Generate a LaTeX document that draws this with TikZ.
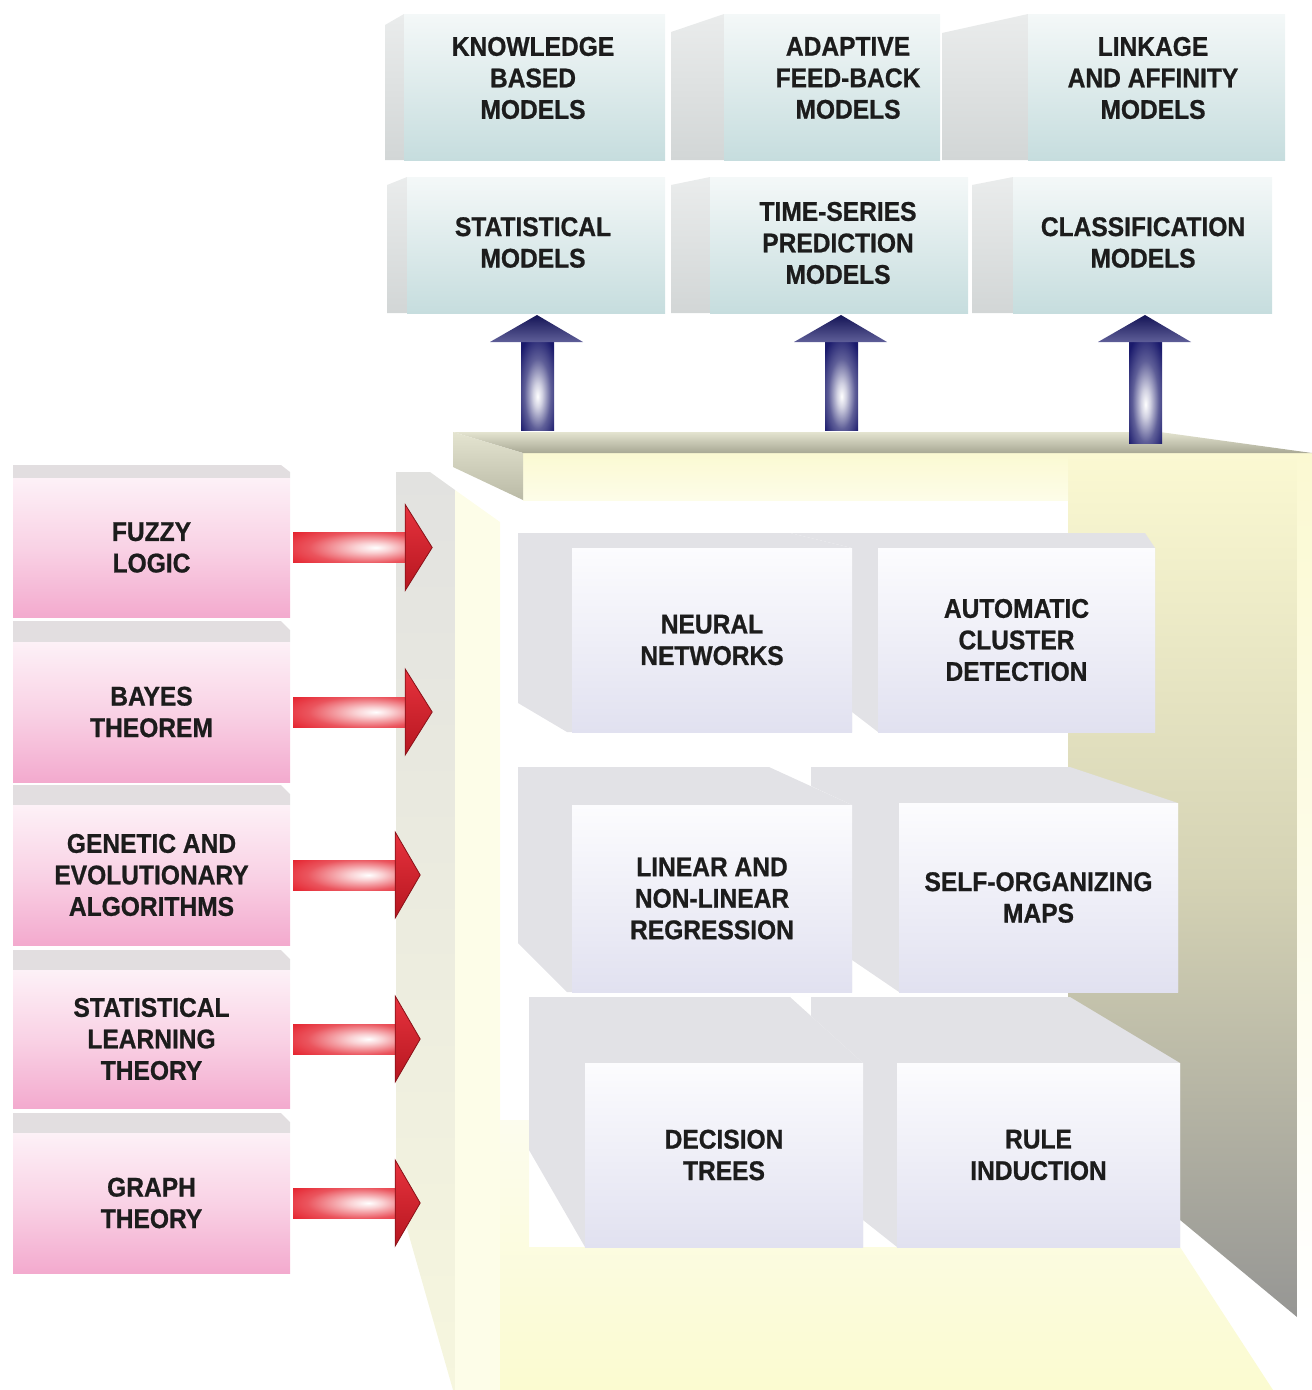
\documentclass[tikz,border=0pt]{standalone}
\usepackage{fontspec}
\setmainfont{Liberation Sans}[FakeStretch=0.91, BoldFeatures={FakeBold=0.8}]
\usetikzlibrary{calc}
\definecolor{navyA}{RGB}{26,26,108}
\definecolor{redA}{RGB}{228,28,40}
\definecolor{tealT}{RGB}{244,248,248}
\definecolor{tealB}{RGB}{198,221,222}
\definecolor{tsideT}{RGB}{234,236,236}
\definecolor{tsideB}{RGB}{210,214,214}
\definecolor{frameg}{RGB}{226,226,230}
\definecolor{faceT}{RGB}{252,252,254}
\definecolor{faceB}{RGB}{225,225,240}
\definecolor{pinkT}{RGB}{253,241,247}
\definecolor{pinkM}{RGB}{249,210,229}
\definecolor{pinkB}{RGB}{243,170,206}
\definecolor{pstripC}{RGB}{226,222,224}
\definecolor{yelA}{RGB}{251,249,210}
\definecolor{wallM}{RGB}{212,210,180}
\definecolor{wallG}{RGB}{150,150,148}
\definecolor{lwT}{RGB}{226,226,224}
\definecolor{lwB}{RGB}{246,246,222}
\definecolor{lwtwo}{RGB}{253,253,232}
\definecolor{floorT}{RGB}{252,252,238}
\definecolor{floorB}{RGB}{251,251,208}
\definecolor{bevT}{RGB}{228,228,208}
\definecolor{bevB}{RGB}{168,168,148}
\definecolor{bevC}{RGB}{186,186,166}
\definecolor{txt}{RGB}{28,28,28}
\pgfdeclareradialshading{redglow}{\pgfpoint{12bp}{0bp}}{color(0bp)=(white); color(8bp)=(redA!20!white); color(26bp)=(redA!75!white); color(42bp)=(redA); color(75bp)=(redA!80!black)}
\pgfdeclareradialshading{blueglow}{\pgfpoint{0bp}{-6bp}}{color(0bp)=(white); color(7bp)=(navyA!20!white); color(20bp)=(navyA!70!white); color(34bp)=(navyA); color(75bp)=(navyA!85!black)}
\newcommand{\myRArrow}[3]{%
  \path (#1.east) ++(3,0) coordinate (ra#1);
  \shade[shading=redglow] ($(ra#1)+(0,-15)$) rectangle ($(ra#1)+(#2,15)$);
  \path[top color=redA!90!white, bottom color=redA!80!black, draw=redA!60!black, line width=0.8pt]
    ($(ra#1)+(#2,-43)$) -- ($(ra#1)+(#3,0)$) -- ($(ra#1)+(#2,43)$) -- cycle;}
\newcommand{\myBArrow}[2]{%
  \coordinate (bb#1) at (#1,#2);
  \shade[shading=blueglow] ($(bb#1)+(-16,0)$) rectangle (#1+17,342);
  \path[top color=navyA!80!black, bottom color=navyA!70!white]
    (#1-47,342) -- (#1,315) -- (#1+46,342) -- cycle;}
\begin{document}
\begin{tikzpicture}[x=1pt,y=-1pt,
  lbl/.style={font=\bfseries\fontsize{27}{31.5}\selectfont, text=txt, align=center, inner sep=0pt},
  tface/.style={top color=tealT, bottom color=tealB},
  tside/.style={top color=tsideT, bottom color=tsideB},
  mframe/.style={fill=frameg},
  mface/.style={lbl, top color=faceT, bottom color=faceB},
  pface/.style={lbl, minimum width=277pt, top color=pinkT, bottom color=pinkB, middle color=pinkM},
  pstrip/.style={fill=pstripC}]
\useasboundingbox (0,0) rectangle (1312,1390);

% ---------- open box structure ----------
\path[top color=yelA, bottom color=wallG, middle color=wallM]
  (1068,453) -- (1297,453) -- (1297,1317) -- (1068,1127) -- cycle;
\path[top color=yelA, bottom color=white] (1297,453) rectangle (1312,1317);
\path[top color=yelA, bottom color=lwtwo] (523,453) rectangle (1068,500);
\path[top color=lwT, bottom color=lwB]
  (396,472) -- (430,472) -- (455,490) -- (455,1390) -- (453,1390) -- (396,1190) -- cycle;
\fill[lwtwo] (455,490) -- (500,522) -- (500,1390) -- (455,1390) -- cycle;
\path[top color=floorT, bottom color=floorB]
  (500,1120) -- (529,1120) -- (529,1247) -- (1180,1247) -- (1273,1390) -- (500,1390) -- cycle;
\path[top color=bevT, bottom color=bevB]
  (453,432) -- (1160,432) -- (1312,453) -- (523,453) -- cycle;
\path[top color=bevT, bottom color=bevC]
  (453,432) -- (523,453) -- (523,500) -- (453,467) -- cycle;

% ---------- inner 3D boxes ----------
\fill[mframe] (518,533) -- (790,533) -- (852,548) -- (852,732) -- (567,732) -- (518,703) -- cycle;
\fill[mframe] (790,533) -- (1145,533) -- (1155,548) -- (1155,732) -- (878,732) -- (852,712) -- (852,548) -- cycle;
\fill[mframe] (518,767) -- (769,767) -- (852,805) -- (852,992) -- (567,992) -- (518,943) -- cycle;
\fill[mframe] (811,767) -- (1070,767) -- (1178,803) -- (1178,992) -- (899,992) -- (852,960) -- (852,805) -- (811,786) -- cycle;
\fill[mframe] (529,997) -- (790,997) -- (863,1063) -- (863,1247) -- (585,1247) -- (529,1150) -- cycle;
\fill[mframe] (811,997) -- (1070,997) -- (1180,1063) -- (1180,1247) -- (897,1247) -- (863,1220) -- (863,1063) -- (811,1016) -- cycle;

\node[mface, minimum width=280pt, minimum height=184pt] (neural) at (712,640) {NEURAL\\NETWORKS};
\node[mface, minimum width=277pt, minimum height=184pt] (acd) at (1016.5,640) {AUTOMATIC\\CLUSTER\\DETECTION};
\node[mface, minimum width=280pt, minimum height=187pt] (lin) at (712,898.5) {LINEAR AND\\NON-LINEAR\\REGRESSION};
\node[mface, minimum width=279pt, minimum height=189pt] (som) at (1038.5,897.5) {SELF-ORGANIZING\\MAPS};
\node[mface, minimum width=278pt, minimum height=184pt] (dt) at (724,1155) {DECISION\\TREES};
\node[mface, minimum width=283pt, minimum height=184pt] (ri) at (1038.5,1155) {RULE\\INDUCTION};

% ---------- blue arrows ----------
\myBArrow{537}{430}
\myBArrow{841}{430}
\myBArrow{1145}{443}

% ---------- pink boxes ----------
\fill[pstrip] (13,465) -- (281,465) -- (290,472) -- (290,478) -- (13,478) -- cycle;
\fill[pstrip] (13,621) -- (281,621) -- (290,630) -- (290,642) -- (13,642) -- cycle;
\fill[pstrip] (13,785) -- (281,785) -- (290,794) -- (290,805) -- (13,805) -- cycle;
\fill[pstrip] (13,950) -- (281,950) -- (290,959) -- (290,970) -- (13,970) -- cycle;
\fill[pstrip] (13,1113) -- (281,1113) -- (290,1122) -- (290,1133) -- (13,1133) -- cycle;

\node[pface, minimum height=139pt] (fuzzy) at (151.5,547.5) {FUZZY\\LOGIC};
\node[pface, minimum height=140pt] (bayes) at (151.5,712) {BAYES\\THEOREM};
\node[pface, minimum height=140pt] (gen) at (151.5,875) {GENETIC AND\\EVOLUTIONARY\\ALGORITHMS};
\node[pface, minimum height=138pt] (slt) at (151.5,1039) {STATISTICAL\\LEARNING\\THEORY};
\node[pface, minimum height=140pt] (graph) at (151.5,1203) {GRAPH\\THEORY};

\myRArrow{fuzzy}{112}{139}
\myRArrow{bayes}{112}{139}
\myRArrow{gen}{102}{127}
\myRArrow{slt}{102}{127}
\myRArrow{graph}{102}{127}

% ---------- top model boxes ----------
\path[tside] (385,25) -- (404,14) -- (404,160) -- (385,160) -- cycle;
\path[tface] (404,14) rectangle (665,160);
\path[tside] (671,32) -- (724,14) -- (724,160) -- (671,160) -- cycle;
\path[tface] (724,14) rectangle (940,160);
\path[tside] (942,33) -- (1028,14) -- (1028,160) -- (942,160) -- cycle;
\path[tface] (1028,14) rectangle (1285,160);

\path[tside] (387,185) -- (407,177) -- (407,313) -- (387,313) -- cycle;
\path[tface] (407,177) rectangle (665,313);
\path[tside] (671,185) -- (710,177) -- (710,313) -- (671,313) -- cycle;
\path[tface] (710,177) rectangle (968,313);
\path[tside] (972,185) -- (1013,177) -- (1013,313) -- (972,313) -- cycle;
\path[tface] (1013,177) rectangle (1272,313);

\node[lbl] (kb) at (533,78) {KNOWLEDGE\\BASED\\MODELS};
\node[lbl] (af) at (848,78) {ADAPTIVE\\FEED-BACK\\MODELS};
\node[lbl] (la) at (1153,78) {LINKAGE\\AND AFFINITY\\MODELS};
\node[lbl] (sm) at (533,242.5) {STATISTICAL\\MODELS};
\node[lbl] (ts) at (838,243) {TIME-SERIES\\PREDICTION\\MODELS};
\node[lbl] (cm) at (1143,242.5) {CLASSIFICATION\\MODELS};
\end{tikzpicture}
\end{document}
